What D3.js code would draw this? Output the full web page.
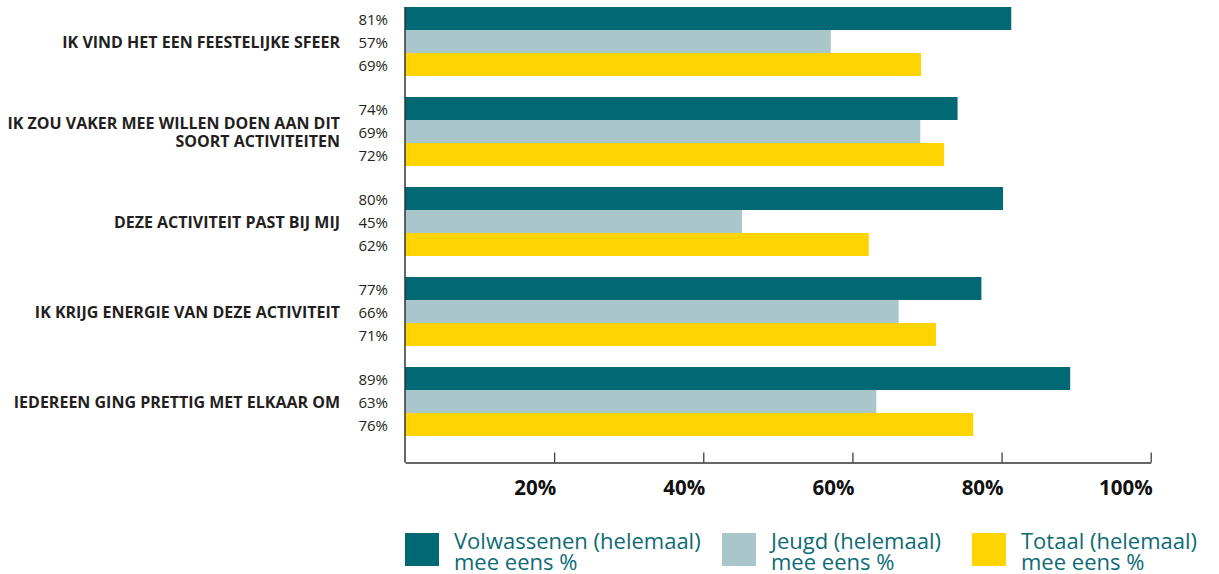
<!DOCTYPE html>
<html>
<head>
<meta charset="utf-8" />
<title>Activiteit</title>
<script src="https://d3js.org/d3.v7.min.js"></script>
<style>
  body { margin: 0; background: #fff; }
  text { font-family: "Open Sans", sans-serif; }
</style>
</head>
<body>
<svg id="chart" width="1219" height="574"></svg>
<script>

var categories = [
  ["IK VIND HET EEN FEESTELIJKE SFEER"],
  ["IK ZOU VAKER MEE WILLEN DOEN AAN DIT", "SOORT ACTIVITEITEN"],
  ["DEZE ACTIVITEIT PAST BIJ MIJ"],
  ["IK KRIJG ENERGIE VAN DEZE ACTIVITEIT"],
  ["IEDEREEN GING PRETTIG MET ELKAAR OM"]
];
var series = ["Volwassenen (helemaal) mee eens %", "Jeugd (helemaal) mee eens %", "Totaal (helemaal) mee eens %"];
var volwassenen = [81.3, 74.1, 80.2, 77.3, 89.2];
var jeugd = [57.1, 69.1, 45.2, 66.2, 63.2];
var totaal = [69.2, 72.3, 62.2, 71.2, 76.2];
var labelVolw = ["81%", "74%", "80%", "77%", "89%"];
var labelJeugd = ["57%", "69%", "45%", "66%", "63%"];
var labelTotaal = ["69%", "72%", "62%", "71%", "76%"];
var ticks = [20, 40, 60, 80, 100];
var colors = ["#016973", "#a9c6cb", "#ffd400"];

var svg = d3.select("#chart");

var x = d3.scaleLinear().domain([0, 100]).range([405, 1150.7]);
var y0 = d3.scaleBand().domain(d3.range(categories.length)).range([7, 436]).paddingInner(21 / 90).paddingOuter(0);
var y1 = d3.scaleBand().domain(d3.range(series.length)).range([0, y0.bandwidth()]);

var values = [volwassenen, jeugd, totaal];
var labels = [labelVolw, labelJeugd, labelTotaal];

var groups = svg.selectAll("g.group")
  .data(categories)
  .enter().append("g")
  .attr("class", "group")
  .attr("transform", function(d, i) { return "translate(0," + y0(i) + ")"; });

groups.each(function(cat, i) {
  var g = d3.select(this);
  series.forEach(function(s, j) {
    g.append("rect")
      .attr("x", x(0))
      .attr("y", y1(j))
      .attr("width", x(values[j][i]) - x(0))
      .attr("height", y1.bandwidth())
      .attr("fill", colors[j]);
    g.append("text")
      .attr("x", 388)
      .attr("y", y1(j) + y1.bandwidth() / 2 + 1)
      .attr("dy", "0.35em")
      .attr("text-anchor", "end")
      .attr("font-size", 15)
      .attr("fill", "#231f20")
      .text(labels[j][i]);
  });
  var mid = y1(1) + y1.bandwidth() / 2;
  var lh = 18;
  var t = g.append("text")
    .attr("text-anchor", "end")
    .attr("font-size", 16)
    .attr("font-weight", "bold")
    .attr("fill", "#231f20");
  cat.forEach(function(line, k) {
    t.append("tspan")
      .attr("x", 340)
      .attr("y", mid + (k - (cat.length - 1) / 2) * lh + 1)
      .attr("dy", "0.35em")
      .text(line);
  });
});

// axes
svg.append("line")
  .attr("x1", 405).attr("x2", 405)
  .attr("y1", 7).attr("y2", 462.5)
  .attr("stroke", "#333").attr("stroke-width", 1.5);

var xAxis = svg.append("g")
  .attr("transform", "translate(0,462.5)")
  .call(d3.axisBottom(x).tickValues(ticks).tickSizeInner(-10).tickSizeOuter(0)
    .tickFormat(function(d) { return d + "%"; }));
xAxis.select(".domain").attr("stroke", "#333").attr("stroke-width", 1.5);
xAxis.selectAll(".tick line").attr("stroke", "#333").attr("stroke-width", 1.2);
xAxis.selectAll(".tick text")
  .attr("text-anchor", "end")
  .attr("x", 1.5)
  .attr("y", 32)
  .attr("dy", 0)
  .attr("font-size", 20.5)
  .attr("font-weight", "bold")
  .attr("font-family", "Open Sans, sans-serif")
  .attr("fill", "#111");

// legend
var legendX = [405, 722, 972];
var legend = svg.selectAll("g.legend")
  .data(series)
  .enter().append("g")
  .attr("class", "legend")
  .attr("transform", function(d, i) { return "translate(" + legendX[i] + ",533)"; });
legend.append("rect")
  .attr("width", 34).attr("height", 33)
  .attr("fill", function(d, i) { return colors[i]; });
legend.each(function(d) {
  var idx = d.indexOf(" mee");
  var lines = [d.slice(0, idx), d.slice(idx + 1)];
  var t = d3.select(this).append("text")
    .attr("font-size", 22)
    .attr("fill", "#0d6b74");
  lines.forEach(function(line, k) {
    t.append("tspan").attr("x", 49).attr("y", 16 + k * 21).text(line);
  });
});

</script>
</body>
</html>
